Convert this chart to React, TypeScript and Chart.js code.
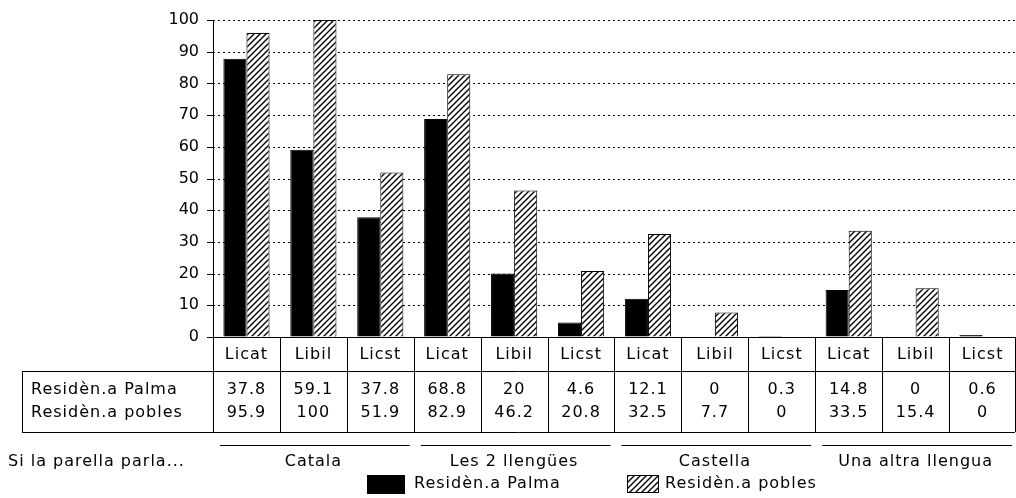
import React, { useEffect, useRef } from "react";
import { Chart, registerables } from "chart.js";

Chart.register(...registerables);

const subcategories = ["Licat", "Libil", "Licst", "Licat", "Libil", "Licst", "Licat", "Libil", "Licst", "Licat", "Libil", "Licst"];
const groups = ["Catala", "Les 2 llengües", "Castella", "Una altra llengua"];
const palma = [87.8, 59.1, 37.8, 68.8, 20, 4.6, 12.1, 0, 0.3, 14.8, 0, 0.6];
const pobles = [95.9, 100, 51.9, 82.9, 46.2, 20.8, 32.5, 7.7, 0, 33.5, 15.4, 0];
const palmaText = ["37.8", "59.1", "37.8", "68.8", "20", "4.6", "12.1", "0", "0.3", "14.8", "0", "0.6"];
const poblesText = ["95.9", "100", "51.9", "82.9", "46.2", "20.8", "32.5", "7.7", "0", "33.5", "15.4", "0"];
const seriesNames = ["Residèn.a Palma", "Residèn.a pobles"];
const rowTitle = "Si la parella parla...";
const yMin = 0;
const yMax = 100;
const yStep = 10;

const FONT = '"DejaVu Sans", sans-serif';

function makeHatch(): CanvasPattern | string {
  const c = document.createElement("canvas");
  c.width = 6;
  c.height = 6;
  const g = c.getContext("2d");
  if (!g) return "#fff";
  g.fillStyle = "#fff";
  g.fillRect(0, 0, 6, 6);
  g.strokeStyle = "#000";
  g.lineWidth = 1.4;
  g.beginPath();
  g.moveTo(0, 6);
  g.lineTo(6, 0);
  g.moveTo(-3, 3);
  g.lineTo(3, -3);
  g.moveTo(3, 9);
  g.lineTo(9, 3);
  g.stroke();
  const p = g.createPattern(c, "repeat");
  return p || "#fff";
}

const gridPlugin = {
  id: "gridPlugin",
  beforeDatasetsDraw(chart: any) {
    const ctx: CanvasRenderingContext2D = chart.ctx;
    const area = chart.chartArea;
    const ys = chart.scales.y;
    ctx.save();
    ctx.strokeStyle = "#000";
    ctx.lineWidth = 1;
    for (let v = yMin; v <= yMax; v += yStep) {
      const y = Math.round(ys.getPixelForValue(v)) + 0.5;
      ctx.setLineDash([2, 3]);
      ctx.beginPath();
      ctx.moveTo(area.left, y);
      ctx.lineTo(area.right, y);
      ctx.stroke();
      ctx.setLineDash([]);
      ctx.beginPath();
      ctx.moveTo(area.left - 6, y);
      ctx.lineTo(area.left, y);
      ctx.stroke();
    }
    ctx.beginPath();
    ctx.moveTo(Math.round(area.left) + 0.5, area.top);
    ctx.lineTo(Math.round(area.left) + 0.5, area.bottom);
    ctx.stroke();
    ctx.restore();
  },
};

const tablePlugin = {
  id: "tablePlugin",
  afterDraw(chart: any, _args: any, opts: any) {
    const ctx: CanvasRenderingContext2D = chart.ctx;
    const area = chart.chartArea;
    const xs = chart.scales.x;
    const n = subcategories.length;
    const colW = (area.right - area.left) / n;
    const lefts: number[] = [];
    for (let i = 0; i < n; i++) lefts.push(xs.getPixelForValue(i) - colW / 2);
    const right = area.right - 1;
    const yTop = area.bottom;
    const yLab = yTop + 34;
    const yBot = yLab + 61;
    const leftBox = 22;
    const px = (v: number) => Math.round(v) + 0.5;

    ctx.save();
    ctx.strokeStyle = "#000";
    ctx.lineWidth = 1;
    ctx.setLineDash([]);
    ctx.beginPath();
    ctx.moveTo(area.left, px(yTop));
    ctx.lineTo(right, px(yTop));
    ctx.moveTo(leftBox, px(yLab));
    ctx.lineTo(right, px(yLab));
    ctx.moveTo(leftBox, px(yBot));
    ctx.lineTo(right, px(yBot));
    for (let i = 0; i < n; i++) {
      ctx.moveTo(px(lefts[i]), yTop);
      ctx.lineTo(px(lefts[i]), yBot);
    }
    ctx.moveTo(px(right), yTop);
    ctx.lineTo(px(right), yBot);
    ctx.moveTo(px(leftBox), yLab);
    ctx.lineTo(px(leftBox), yBot);
    ctx.stroke();

    ctx.fillStyle = "#000";
    ctx.font = `16px ${FONT}`;
    (ctx as any).letterSpacing = "1px";
    ctx.textBaseline = "middle";
    ctx.textAlign = "center";
    for (let i = 0; i < n; i++) {
      const cx = lefts[i] + colW / 2;
      ctx.fillText(subcategories[i], cx, yTop + 18);
      ctx.fillText(palmaText[i], cx, yLab + 19);
      ctx.fillText(poblesText[i], cx, yLab + 42);
    }
    ctx.textAlign = "left";
    ctx.fillText(seriesNames[0], 31, yLab + 19);
    ctx.fillText(seriesNames[1], 31, yLab + 42);

    const gY = yBot + 13;
    ctx.beginPath();
    for (let g = 0; g < groups.length; g++) {
      const gl = lefts[g * 3] + 7;
      const gr = (g * 3 + 3 < n ? lefts[g * 3 + 3] : area.right) - 4;
      ctx.moveTo(gl, px(gY));
      ctx.lineTo(gr, px(gY));
    }
    ctx.stroke();
    ctx.textAlign = "center";
    for (let g = 0; g < groups.length; g++) {
      const gl = lefts[g * 3];
      const gr = g * 3 + 3 < n ? lefts[g * 3 + 3] : area.right;
      ctx.fillText(groups[g], (gl + gr) / 2, gY + 17);
    }
    ctx.textAlign = "left";
    ctx.fillText(rowTitle, 8, gY + 17);

    const lY = 475;
    ctx.fillStyle = "#000";
    ctx.fillRect(367, lY, 38, 19);
    ctx.fillText(seriesNames[0], 414, lY + 9);
    ctx.fillStyle = opts.hatch;
    ctx.fillRect(627, lY, 31, 18);
    ctx.strokeRect(627.5, lY + 0.5, 31, 17);
    ctx.fillStyle = "#000";
    ctx.fillText(seriesNames[1], 665, lY + 9);
    ctx.restore();
  },
};

export default function App() {
  const ref = useRef<HTMLCanvasElement | null>(null);
  useEffect(() => {
    document.body.style.margin = "0";
    const canvas = ref.current;
    if (!canvas) return;
    const hatch = makeHatch();
    const chart = new Chart(canvas, {
      type: "bar",
      data: {
        labels: subcategories,
        datasets: [
          {
            label: seriesNames[0],
            data: palma,
            backgroundColor: "#000",
            borderColor: "#000",
            borderWidth: 1,
            categoryPercentage: 0.69,
            barPercentage: 1,
          },
          {
            label: seriesNames[1],
            data: pobles,
            backgroundColor: hatch as any,
            borderColor: "#000",
            borderWidth: 1,
            categoryPercentage: 0.69,
            barPercentage: 1,
          },
        ],
      },
      options: {
        responsive: false,
        animation: false,
        events: [],
        layout: { padding: { top: 20, right: 0, bottom: 161, left: 0 } },
        plugins: {
          legend: { display: false },
          tooltip: { enabled: false },
          tablePlugin: { hatch },
        } as any,
        scales: {
          x: { display: false },
          y: {
            min: yMin,
            max: yMax,
            afterFit: (s: any) => {
              s.width = 213;
            },
            ticks: {
              stepSize: yStep,
              color: "#000",
              padding: 8,
              font: { family: FONT, size: 16 },
            },
            grid: {
              display: true,
              drawTicks: true,
              tickLength: 6,
              color: "rgba(0,0,0,0)",
              tickColor: "rgba(0,0,0,0)",
            },
            border: { display: false },
          },
        },
      },
      plugins: [gridPlugin, tablePlugin],
    });
    return () => chart.destroy();
  }, []);
  return (
    <div style={{ position: "absolute", left: 0, top: 0, width: 1016, height: 498, background: "#fff" }}>
      <canvas ref={ref} width={1016} height={498} style={{ display: "block" }} />
    </div>
  );
}
